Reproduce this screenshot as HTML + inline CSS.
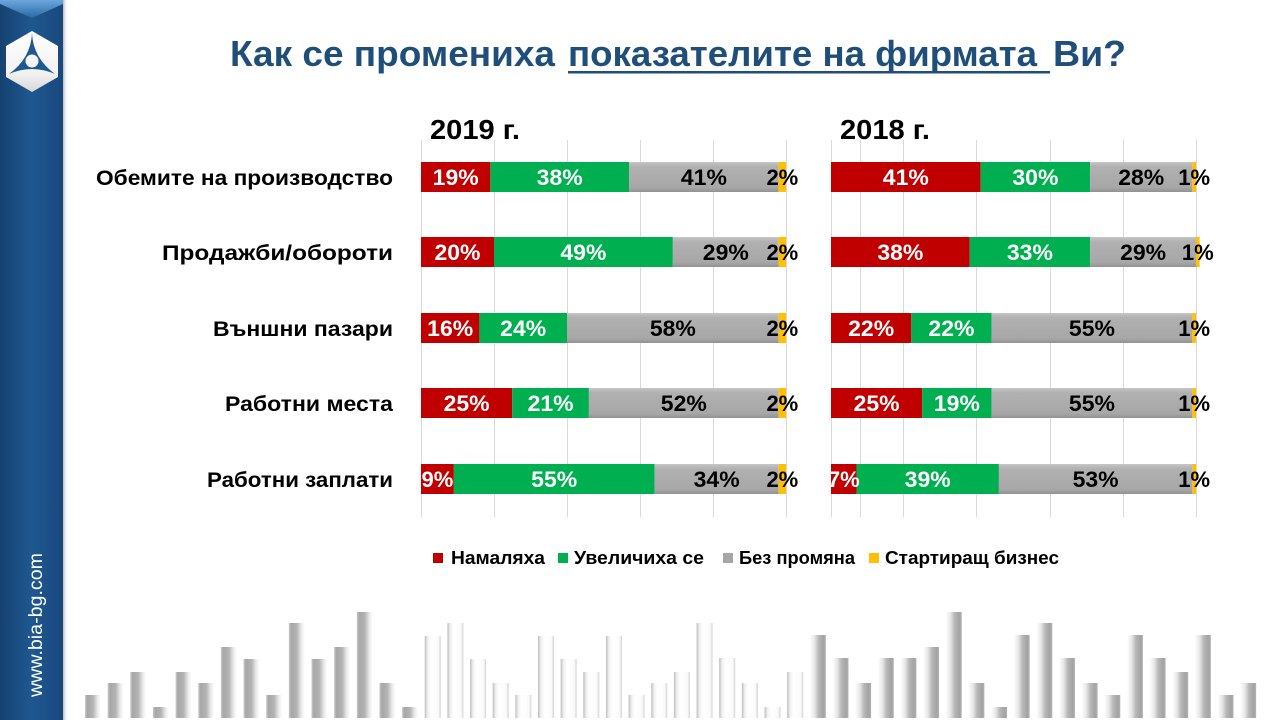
<!DOCTYPE html>
<html>
<head>
<meta charset="utf-8">
<style>
  html, body { margin:0; padding:0; background:#ffffff; }
  body { width:1280px; height:720px; overflow:hidden; position:relative; }
  svg { position:absolute; left:0; top:0; }
  text { font-family: "Liberation Sans", "DejaVu Sans", sans-serif; }
</style>
</head>
<body>
<svg width="1280" height="720" viewBox="0 0 1280 720" xmlns="http://www.w3.org/2000/svg">
  <defs>
    <linearGradient id="side" x1="0" y1="0" x2="1" y2="0">
      <stop offset="0" stop-color="#164272"/>
      <stop offset="0.5" stop-color="#1e5890"/>
      <stop offset="1" stop-color="#18497c"/>
    </linearGradient>
    <linearGradient id="sideTop" x1="0" y1="0" x2="0" y2="1">
      <stop offset="0" stop-color="#6ba7dd"/>
      <stop offset="1" stop-color="#2b69a4"/>
    </linearGradient>
    <linearGradient id="shadow" x1="0" y1="0" x2="1" y2="0">
      <stop offset="0" stop-color="#b8b8b8"/>
      <stop offset="1" stop-color="#ffffff" stop-opacity="0"/>
    </linearGradient>
    <linearGradient id="logoW" x1="0" y1="0" x2="0" y2="1">
      <stop offset="0" stop-color="#ffffff"/>
      <stop offset="0.7" stop-color="#f2f2f2"/>
      <stop offset="1" stop-color="#d6d6d6"/>
    </linearGradient>
    <linearGradient id="gray" x1="0" y1="0" x2="0" y2="1">
      <stop offset="0" stop-color="#c6c6c6"/>
      <stop offset="0.15" stop-color="#b1b1b1"/>
      <stop offset="0.85" stop-color="#a7a7a7"/>
      <stop offset="1" stop-color="#929292"/>
    </linearGradient>
    <linearGradient id="gl" x1="0" y1="0" x2="1" y2="0">
      <stop offset="0" stop-color="#cacaca"/>
      <stop offset="0.15" stop-color="#a7a7a7"/>
      <stop offset="0.5" stop-color="#b4b4b4"/>
      <stop offset="0.78" stop-color="#e9e9e9"/>
      <stop offset="1" stop-color="#ffffff"/>
    </linearGradient>
    <linearGradient id="gm" x1="0" y1="0" x2="1" y2="0">
      <stop offset="0" stop-color="#bdbdbd"/>
      <stop offset="0.18" stop-color="#f0f0f0"/>
      <stop offset="0.4" stop-color="#ffffff"/>
      <stop offset="0.85" stop-color="#fafafa"/>
      <stop offset="1" stop-color="#d2d2d2"/>
    </linearGradient>
    <linearGradient id="gr" x1="0" y1="0" x2="1" y2="0">
      <stop offset="0" stop-color="#ffffff"/>
      <stop offset="0.3" stop-color="#e6e6e6"/>
      <stop offset="0.55" stop-color="#b8b8b8"/>
      <stop offset="0.85" stop-color="#a3a3a3"/>
      <stop offset="1" stop-color="#b2b2b2"/>
    </linearGradient>
  </defs>

  <!-- Sidebar -->
  <rect x="63" y="0" width="5" height="720" fill="url(#shadow)"/>
  <rect x="0" y="0" width="63" height="720" fill="url(#side)"/>
  <polygon points="0,0 63,0 63,4 32,18 0,4" fill="url(#sideTop)"/>
  <!-- Logo -->
  <polygon points="32,31 58,46 58,77 32,92 6,77 6,46" fill="url(#logoW)"/>
  <path d="M32,33 Q31,58 9,74 Q32,64 55,74 Q33,58 32,33 Z" fill="#1e5890"/>
  <circle cx="32" cy="61" r="6.5" fill="#f4f4f4"/>
  <!-- sidebar url -->
  <text transform="translate(42,697) rotate(-90)" font-size="19" fill="#ffffff" textLength="144" lengthAdjust="spacingAndGlyphs">www.bia-bg.com</text>

  <!-- Title -->
  <g font-weight="bold" font-size="36" fill="#1f4e79">
    <text x="230" y="66" textLength="325" lengthAdjust="spacingAndGlyphs">Как се промениха</text>
    <text x="568" y="66" textLength="469" lengthAdjust="spacingAndGlyphs">показателите на фирмата</text>
    <text x="1053" y="66" textLength="73" lengthAdjust="spacingAndGlyphs">Ви?</text>
  </g>
  <rect x="568" y="71" width="482" height="2.5" fill="#1f4e79"/>

  <!-- Year labels -->
  <g font-weight="bold" font-size="28" fill="#000">
    <text x="430" y="139" textLength="90" lengthAdjust="spacingAndGlyphs">2019 г.</text>
    <text x="840" y="139" textLength="90" lengthAdjust="spacingAndGlyphs">2018 г.</text>
  </g>

  <!-- Gridlines -->
  <g stroke="#d9d9d9" stroke-width="1">
    <line x1="421.5" y1="140" x2="421.5" y2="517"/>
    <line x1="494.5" y1="140" x2="494.5" y2="517"/>
    <line x1="567.5" y1="140" x2="567.5" y2="517"/>
    <line x1="640.5" y1="140" x2="640.5" y2="517"/>
    <line x1="713.5" y1="140" x2="713.5" y2="517"/>
    <line x1="786.5" y1="140" x2="786.5" y2="517"/>
    <line x1="831.5" y1="140" x2="831.5" y2="517"/>
    <line x1="860.5" y1="140" x2="860.5" y2="517"/>
    <line x1="903.5" y1="140" x2="903.5" y2="517"/>
    <line x1="976.5" y1="140" x2="976.5" y2="517"/>
    <line x1="1050.5" y1="140" x2="1050.5" y2="517"/>
    <line x1="1123.5" y1="140" x2="1123.5" y2="517"/>
    <line x1="1196.5" y1="140" x2="1196.5" y2="517"/>
  </g>

  <!-- Category labels -->
  <g font-weight="bold" font-size="21.5" fill="#000" text-anchor="end">
    <text x="393" y="185" textLength="297" lengthAdjust="spacingAndGlyphs">Обемите на производство</text>
    <text x="393" y="260" textLength="231" lengthAdjust="spacingAndGlyphs">Продажби/обороти</text>
    <text x="393" y="336" textLength="180" lengthAdjust="spacingAndGlyphs">Външни пазари</text>
    <text x="393" y="411" textLength="168" lengthAdjust="spacingAndGlyphs">Работни места</text>
    <text x="393" y="487" textLength="186" lengthAdjust="spacingAndGlyphs">Работни заплати</text>
  </g>

  <!-- 2019 bars -->
  <g>
    <!-- row1 -->
    <rect x="421" y="162" width="69.35" height="30" fill="#c00000"/>
    <rect x="490.35" y="162" width="138.7" height="30" fill="#00b050"/>
    <rect x="629.05" y="162" width="149.65" height="30" fill="url(#gray)"/>
    <rect x="778.7" y="162" width="7.3" height="30" fill="#ffc000"/>
    <!-- row2 -->
    <rect x="421" y="237" width="73" height="30" fill="#c00000"/>
    <rect x="494" y="237" width="178.85" height="30" fill="#00b050"/>
    <rect x="672.85" y="237" width="105.85" height="30" fill="url(#gray)"/>
    <rect x="778.7" y="237" width="7.3" height="30" fill="#ffc000"/>
    <!-- row3 -->
    <rect x="421" y="313" width="58.4" height="30" fill="#c00000"/>
    <rect x="479.4" y="313" width="87.6" height="30" fill="#00b050"/>
    <rect x="567" y="313" width="211.7" height="30" fill="url(#gray)"/>
    <rect x="778.7" y="313" width="7.3" height="30" fill="#ffc000"/>
    <!-- row4 -->
    <rect x="421" y="388" width="91.25" height="30" fill="#c00000"/>
    <rect x="512.25" y="388" width="76.65" height="30" fill="#00b050"/>
    <rect x="588.9" y="388" width="189.8" height="30" fill="url(#gray)"/>
    <rect x="778.7" y="388" width="7.3" height="30" fill="#ffc000"/>
    <!-- row5 -->
    <rect x="421" y="464" width="32.85" height="30" fill="#c00000"/>
    <rect x="453.85" y="464" width="200.75" height="30" fill="#00b050"/>
    <rect x="654.6" y="464" width="124.1" height="30" fill="url(#gray)"/>
    <rect x="778.7" y="464" width="7.3" height="30" fill="#ffc000"/>
  </g>

  <!-- 2018 bars -->
  <g>
    <!-- row1 -->
    <rect x="831" y="162" width="149.65" height="30" fill="#c00000"/>
    <rect x="980.65" y="162" width="109.5" height="30" fill="#00b050"/>
    <rect x="1090.15" y="162" width="102.2" height="30" fill="url(#gray)"/>
    <rect x="1192.35" y="162" width="3.65" height="30" fill="#ffc000"/>
    <!-- row2 -->
    <rect x="831" y="237" width="138.7" height="30" fill="#c00000"/>
    <rect x="969.7" y="237" width="120.45" height="30" fill="#00b050"/>
    <rect x="1090.15" y="237" width="105.85" height="30" fill="url(#gray)"/>
    <rect x="1196" y="237" width="3.65" height="30" fill="#ffc000"/>
    <!-- row3 -->
    <rect x="831" y="313" width="80.3" height="30" fill="#c00000"/>
    <rect x="911.3" y="313" width="80.3" height="30" fill="#00b050"/>
    <rect x="991.6" y="313" width="200.75" height="30" fill="url(#gray)"/>
    <rect x="1192.35" y="313" width="3.65" height="30" fill="#ffc000"/>
    <!-- row4 -->
    <rect x="831" y="388" width="91.25" height="30" fill="#c00000"/>
    <rect x="922.25" y="388" width="69.35" height="30" fill="#00b050"/>
    <rect x="991.6" y="388" width="200.75" height="30" fill="url(#gray)"/>
    <rect x="1192.35" y="388" width="3.65" height="30" fill="#ffc000"/>
    <!-- row5 -->
    <rect x="831" y="464" width="25.55" height="30" fill="#c00000"/>
    <rect x="856.55" y="464" width="142.35" height="30" fill="#00b050"/>
    <rect x="998.9" y="464" width="193.45" height="30" fill="url(#gray)"/>
    <rect x="1192.35" y="464" width="3.65" height="30" fill="#ffc000"/>
  </g>

  <!-- Value labels -->
  <g font-weight="bold" font-size="22" text-anchor="middle">
    <!-- 2019 -->
    <text x="455.7" y="185" fill="#fff" textLength="46" lengthAdjust="spacingAndGlyphs">19%</text>
    <text x="559.7" y="185" fill="#fff" textLength="46" lengthAdjust="spacingAndGlyphs">38%</text>
    <text x="703.9" y="185" fill="#000" textLength="46" lengthAdjust="spacingAndGlyphs">41%</text>
    <text x="782.35" y="185" fill="#000">2%</text>

    <text x="457.5" y="260" fill="#fff" textLength="46" lengthAdjust="spacingAndGlyphs">20%</text>
    <text x="583.4" y="260" fill="#fff" textLength="46" lengthAdjust="spacingAndGlyphs">49%</text>
    <text x="725.8" y="260" fill="#000" textLength="46" lengthAdjust="spacingAndGlyphs">29%</text>
    <text x="782.35" y="260" fill="#000">2%</text>

    <text x="450.2" y="336" fill="#fff" textLength="46" lengthAdjust="spacingAndGlyphs">16%</text>
    <text x="523.2" y="336" fill="#fff" textLength="46" lengthAdjust="spacingAndGlyphs">24%</text>
    <text x="672.85" y="336" fill="#000" textLength="46" lengthAdjust="spacingAndGlyphs">58%</text>
    <text x="782.35" y="336" fill="#000">2%</text>

    <text x="466.6" y="411" fill="#fff" textLength="46" lengthAdjust="spacingAndGlyphs">25%</text>
    <text x="550.6" y="411" fill="#fff" textLength="46" lengthAdjust="spacingAndGlyphs">21%</text>
    <text x="683.8" y="411" fill="#000" textLength="46" lengthAdjust="spacingAndGlyphs">52%</text>
    <text x="782.35" y="411" fill="#000">2%</text>

    <text x="437.4" y="487" fill="#fff">9%</text>
    <text x="554.2" y="487" fill="#fff" textLength="46" lengthAdjust="spacingAndGlyphs">55%</text>
    <text x="716.65" y="487" fill="#000" textLength="46" lengthAdjust="spacingAndGlyphs">34%</text>
    <text x="782.35" y="487" fill="#000">2%</text>

    <!-- 2018 -->
    <text x="905.8" y="185" fill="#fff" textLength="46" lengthAdjust="spacingAndGlyphs">41%</text>
    <text x="1035.4" y="185" fill="#fff" textLength="46" lengthAdjust="spacingAndGlyphs">30%</text>
    <text x="1141.25" y="185" fill="#000" textLength="46" lengthAdjust="spacingAndGlyphs">28%</text>
    <text x="1194.2" y="185" fill="#000">1%</text>

    <text x="900.35" y="260" fill="#fff" textLength="46" lengthAdjust="spacingAndGlyphs">38%</text>
    <text x="1029.9" y="260" fill="#fff" textLength="46" lengthAdjust="spacingAndGlyphs">33%</text>
    <text x="1143.1" y="260" fill="#000" textLength="46" lengthAdjust="spacingAndGlyphs">29%</text>
    <text x="1197.8" y="260" fill="#000">1%</text>

    <text x="871.15" y="336" fill="#fff" textLength="46" lengthAdjust="spacingAndGlyphs">22%</text>
    <text x="951.45" y="336" fill="#fff" textLength="46" lengthAdjust="spacingAndGlyphs">22%</text>
    <text x="1091.95" y="336" fill="#000" textLength="46" lengthAdjust="spacingAndGlyphs">55%</text>
    <text x="1194.2" y="336" fill="#000">1%</text>

    <text x="876.6" y="411" fill="#fff" textLength="46" lengthAdjust="spacingAndGlyphs">25%</text>
    <text x="956.9" y="411" fill="#fff" textLength="46" lengthAdjust="spacingAndGlyphs">19%</text>
    <text x="1091.95" y="411" fill="#000" textLength="46" lengthAdjust="spacingAndGlyphs">55%</text>
    <text x="1194.2" y="411" fill="#000">1%</text>

    <text x="843.8" y="487" fill="#fff">7%</text>
    <text x="927.7" y="487" fill="#fff" textLength="46" lengthAdjust="spacingAndGlyphs">39%</text>
    <text x="1095.6" y="487" fill="#000" textLength="46" lengthAdjust="spacingAndGlyphs">53%</text>
    <text x="1194.2" y="487" fill="#000">1%</text>
  </g>

  <!-- Legend -->
  <rect x="433" y="553" width="10" height="10" fill="#c00000"/>
  <rect x="558" y="553" width="10" height="10" fill="#00b050"/>
  <rect x="723" y="553" width="10" height="10" fill="#a6a6a6"/>
  <rect x="869" y="553" width="10" height="10" fill="#ffc000"/>
  <g font-weight="bold" font-size="18" fill="#000">
    <text x="451" y="564" textLength="94" lengthAdjust="spacingAndGlyphs">Намаляха</text>
    <text x="574" y="564" textLength="130" lengthAdjust="spacingAndGlyphs">Увеличиха се</text>
    <text x="739" y="564" textLength="116" lengthAdjust="spacingAndGlyphs">Без промяна</text>
    <text x="885" y="564" textLength="174" lengthAdjust="spacingAndGlyphs">Стартиращ бизнес</text>
  </g>

  <!-- Decorative bottom bars -->
  <g>
    <rect x="85" y="695" width="16" height="23" fill="url(#gl)"/>
    <rect x="107.65" y="683" width="16" height="35" fill="url(#gl)"/>
    <rect x="130.3" y="672" width="16" height="46" fill="url(#gl)"/>
    <rect x="152.95" y="707" width="16" height="11" fill="url(#gl)"/>
    <rect x="175.6" y="672" width="16" height="46" fill="url(#gl)"/>
    <rect x="198.25" y="683" width="16" height="35" fill="url(#gl)"/>
    <rect x="220.9" y="647" width="16" height="71" fill="url(#gl)"/>
    <rect x="243.55" y="659" width="16" height="59" fill="url(#gl)"/>
    <rect x="266.2" y="695" width="16" height="23" fill="url(#gl)"/>
    <rect x="288.85" y="623" width="16" height="95" fill="url(#gl)"/>
    <rect x="311.5" y="659" width="16" height="59" fill="url(#gl)"/>
    <rect x="334.15" y="647" width="16" height="71" fill="url(#gl)"/>
    <rect x="356.8" y="612" width="16" height="106" fill="url(#gl)"/>
    <rect x="379.45" y="683" width="16" height="35" fill="url(#gl)"/>
    <rect x="402.1" y="707" width="16" height="11" fill="url(#gl)"/>
    <rect x="424.75" y="636" width="16" height="82" fill="url(#gm)"/>
    <rect x="447.4" y="623" width="16" height="95" fill="url(#gm)"/>
    <rect x="470.05" y="659" width="16" height="59" fill="url(#gm)"/>
    <rect x="492.7" y="683" width="16" height="35" fill="url(#gm)"/>
    <rect x="515.35" y="695" width="16" height="23" fill="url(#gm)"/>
    <rect x="538" y="636" width="16" height="82" fill="url(#gm)"/>
    <rect x="560.65" y="659" width="16" height="59" fill="url(#gm)"/>
    <rect x="583.3" y="672" width="16" height="46" fill="url(#gm)"/>
    <rect x="605.95" y="636" width="16" height="82" fill="url(#gm)"/>
    <rect x="628.6" y="695" width="16" height="23" fill="url(#gm)"/>
    <rect x="651.25" y="683" width="16" height="35" fill="url(#gm)"/>
    <rect x="673.9" y="672" width="16" height="46" fill="url(#gm)"/>
    <rect x="696.55" y="623" width="16" height="95" fill="url(#gm)"/>
    <rect x="719.2" y="658" width="16" height="60" fill="url(#gm)"/>
    <rect x="741.85" y="683" width="16" height="35" fill="url(#gm)"/>
    <rect x="764.5" y="707" width="16" height="11" fill="url(#gm)"/>
    <rect x="787.15" y="672" width="16" height="46" fill="url(#gm)"/>
    <rect x="809.8" y="635" width="16" height="83" fill="url(#gr)"/>
    <rect x="832.45" y="658" width="16" height="60" fill="url(#gr)"/>
    <rect x="855.1" y="683" width="16" height="35" fill="url(#gr)"/>
    <rect x="877.75" y="658" width="16" height="60" fill="url(#gr)"/>
    <rect x="900.4" y="658" width="16" height="60" fill="url(#gr)"/>
    <rect x="923.05" y="647" width="16" height="71" fill="url(#gr)"/>
    <rect x="945.7" y="612" width="16" height="106" fill="url(#gr)"/>
    <rect x="968.35" y="683" width="16" height="35" fill="url(#gr)"/>
    <rect x="991" y="707" width="16" height="11" fill="url(#gr)"/>
    <rect x="1013.65" y="635" width="16" height="83" fill="url(#gr)"/>
    <rect x="1036.3" y="623" width="16" height="95" fill="url(#gr)"/>
    <rect x="1058.95" y="658" width="16" height="60" fill="url(#gr)"/>
    <rect x="1081.6" y="683" width="16" height="35" fill="url(#gr)"/>
    <rect x="1104.25" y="695" width="16" height="23" fill="url(#gr)"/>
    <rect x="1126.9" y="635" width="16" height="83" fill="url(#gr)"/>
    <rect x="1149.55" y="658" width="16" height="60" fill="url(#gr)"/>
    <rect x="1172.2" y="672" width="16" height="46" fill="url(#gr)"/>
    <rect x="1194.85" y="635" width="16" height="83" fill="url(#gr)"/>
    <rect x="1217.5" y="695" width="16" height="23" fill="url(#gr)"/>
    <rect x="1240.15" y="683" width="16" height="35" fill="url(#gr)"/>
  </g>
</svg>
</body>
</html>
